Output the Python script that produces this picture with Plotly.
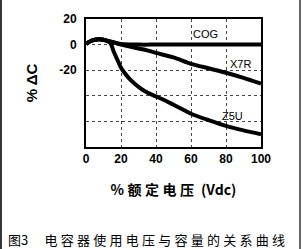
import plotly.graph_objects as go

# ---- data ----
x_cog = [0, 3, 6, 9, 12, 15, 20, 30, 40, 50, 60, 70, 80, 90, 100]
y_cog = [0.5, 3, 4, 4, 3, 2, 0.5, 0, 0, 0, 0, 0, 0, 0, 0]

x_x7r = [0, 3, 6, 9, 12, 15, 20, 25, 30, 35, 40, 50, 60, 70, 80, 90, 100]
y_x7r = [0.5, 3, 4, 4, 3, 2, 0, -1.5, -3, -4.5, -6.5, -10, -15, -18.5, -22, -26, -30.5]

x_z5u = [0, 3, 6, 9, 12, 14, 16, 18, 20, 22, 25, 30, 35, 40, 45, 50, 55, 60, 70, 80, 90, 100]
y_z5u = [0.5, 3, 4, 4, 3, 1, -6, -12, -18, -22, -27, -33, -37.5, -40.5, -43.5, -47, -50.5, -54, -59, -63.5, -67, -70]

x_ticks = [0, 20, 40, 60, 80, 100]
x_tick_labels = ["0", "20", "40", "60", "80", "100"]
y_ticks = [20, 0, -20, -40, -60, -80]
y_tick_labels = ["20", "0", "-20", "", "", ""]

series_labels = ["COG", "X7R", "Z5U"]
label_x = [68, 88, 83.5]
label_y = [8.5, -15.5, -56]

x_title = "%\u2005额\u2005定\u2005电\u2005压\u2005\u2005(Vdc)"
y_title = "% ΔC"
caption = "图3\u2003\u2005" + "\u2005".join("电容器使用电压与容量的关系曲线")

fig = go.Figure()
for xs, ys in [(x_cog, y_cog), (x_x7r, y_x7r), (x_z5u, y_z5u)]:
    fig.add_trace(go.Scatter(x=xs, y=ys, mode="lines",
                             line=dict(color="black", width=4, shape="spline", smoothing=0.8),
                             showlegend=False, hoverinfo="skip"))

for t, lx, ly in zip(series_labels, label_x, label_y):
    fig.add_annotation(x=lx, y=ly, text=t, showarrow=False,
                       font=dict(family="Liberation Sans, Arial", size=11, color="black"))

fig.update_xaxes(range=[0, 100], tickvals=x_ticks, ticktext=x_tick_labels,
                 showgrid=True, gridcolor="#444", griddash="dot", gridwidth=1,
                 showline=True, linecolor="black", linewidth=2, mirror=True,
                 ticks="", zeroline=False,
                 tickfont=dict(family="Liberation Sans, Arial", size=12, color="black", weight="bold"),
                 title=dict(text=x_title, standoff=20,
                            font=dict(family="Noto Sans CJK SC", size=14, color="black", weight="bold")))
fig.update_yaxes(range=[-80, 20], tickvals=y_ticks, ticktext=y_tick_labels,
                 showgrid=True, gridcolor="#444", griddash="dot", gridwidth=1,
                 showline=True, linecolor="black", linewidth=2, mirror=True,
                 ticks="", zeroline=False, ticklabelstandoff=5,
                 tickfont=dict(family="Liberation Sans, Arial", size=12, color="black", weight="bold"),
                 title=dict(text=y_title, standoff=18,
                            font=dict(family="Liberation Sans, Arial", size=15, color="black", weight="bold")))

fig.add_annotation(xref="paper", yref="paper", x=-0.46, y=-0.72, xanchor="left",
                   yanchor="middle", text=caption, showarrow=False,
                   font=dict(family="Noto Sans CJK SC", size=13, color="black"))

# scan frame lines
fig.add_shape(type="line", xref="paper", yref="paper", x0=-0.486, x1=-0.486, y0=-0.8, y1=1.2,
              line=dict(color="#333", width=2))
fig.add_shape(type="line", xref="paper", yref="paper", x0=1.223, x1=1.223, y0=-0.8, y1=1.2,
              line=dict(color="#333", width=1.5))

fig.update_layout(width=303, height=249, margin=dict(l=86, r=42, t=13, b=102),
                  paper_bgcolor="white", plot_bgcolor="white")
fig.write_html("out.html")
